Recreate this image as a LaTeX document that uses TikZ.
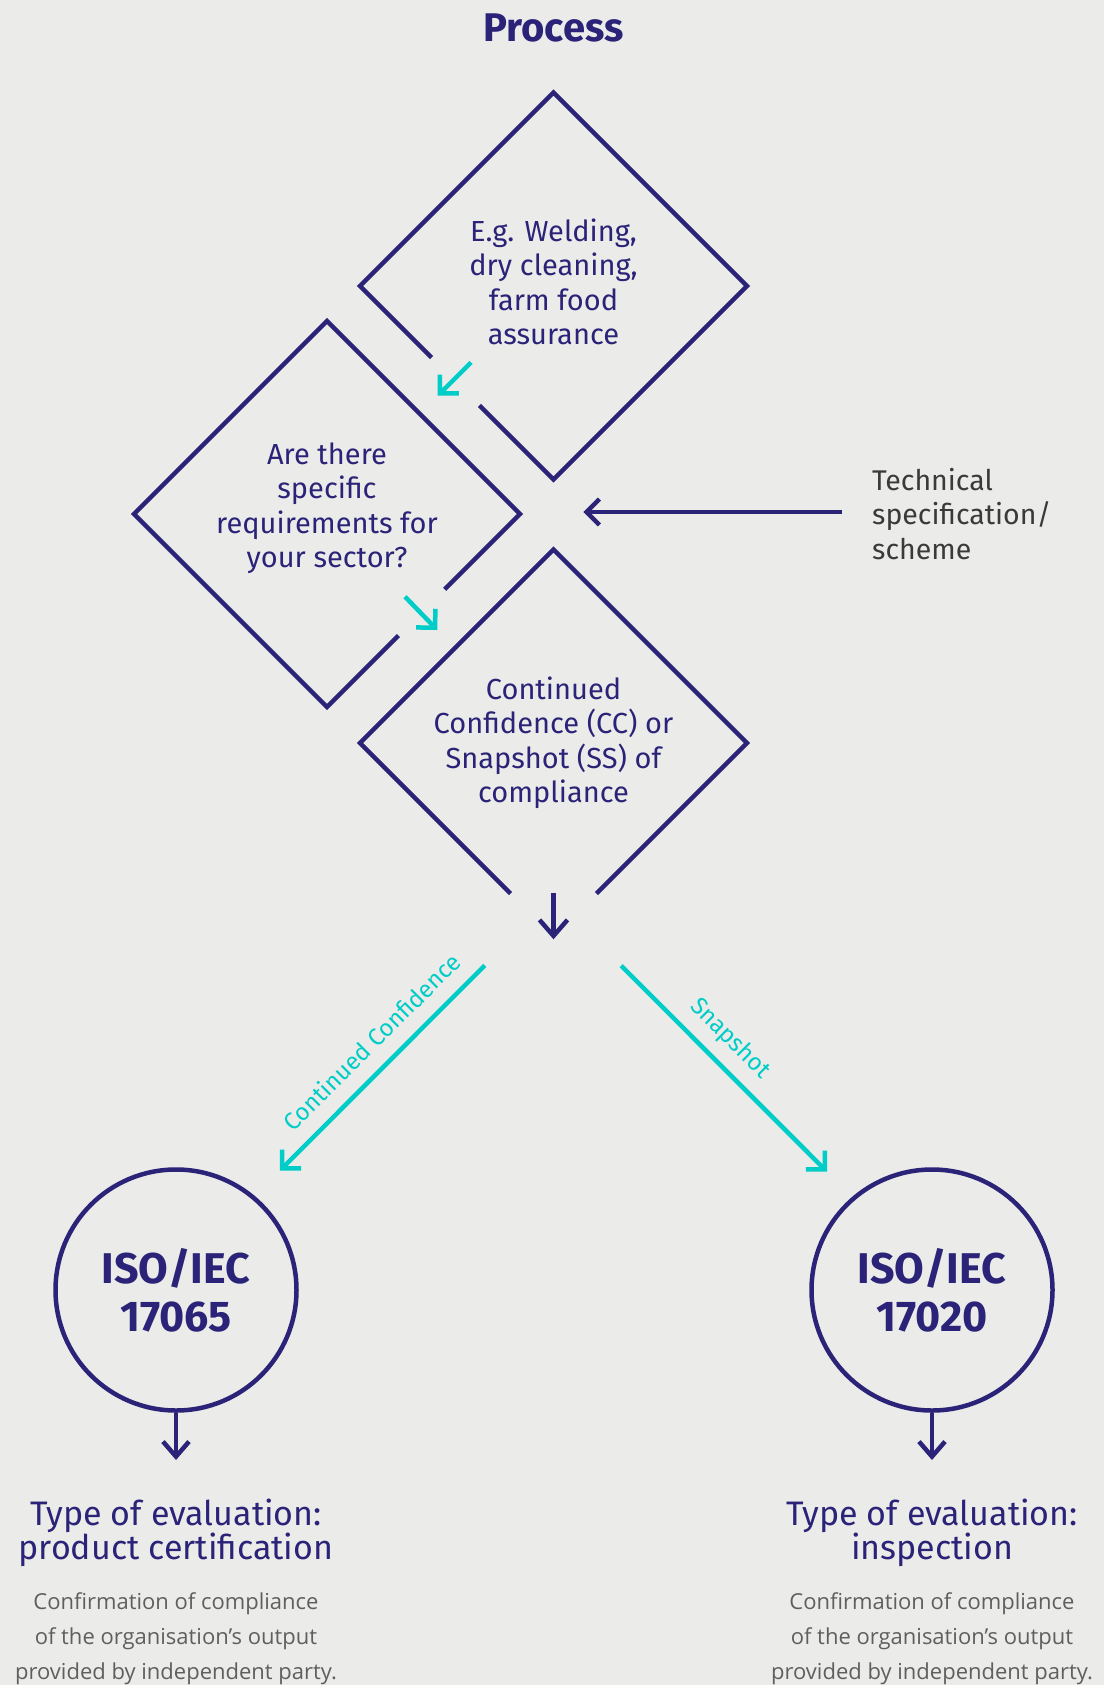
\documentclass[tikz,border=0pt]{standalone}
\usepackage{fontspec}
\setmainfont{Fira Sans}
\newfontfamily\bodyfont{Open Sans}
\usetikzlibrary{arrows.meta,calc}
\definecolor{navy}{RGB}{42,35,120}
\definecolor{teal}{RGB}{0,205,200}
\definecolor{bgc}{RGB}{235,235,233}
\definecolor{techgray}{RGB}{58,58,58}
\definecolor{bodygray}{RGB}{95,95,95}
\tikzset{
  navyline/.style={draw=navy, line width=4.5pt, line join=miter, line cap=butt},
  tealline/.style={draw=teal, line width=4.5pt, line join=miter, line cap=butt},
  navyarrow/.style={navyline, -{Straight Barb[length=14pt,width=28pt]}},
  tealarrow/.style={tealline, -{Straight Barb[length=13.4pt,width=26.8pt]}},
  dtext/.style={text=navy, align=center, inner sep=0pt, font=\fontsize{29}{34.5}\selectfont},
  isocircle/.style={circle, draw=navy, line width=4.5pt, minimum size=241pt, inner sep=0pt, align=center, text=navy, font=\bfseries\fontsize{43}{48}\selectfont},
  typetext/.style={text=navy, align=center, inner sep=0pt, font=\fontsize{34}{34}\selectfont},
  bodytext/.style={text=bodygray, align=center, inner sep=0pt, font=\bodyfont\fontsize{22}{35}\selectfont},
  labeltext/.style={text=teal, inner sep=0pt, font=\fontsize{24}{24}\selectfont}
}
\begin{document}
\begin{tikzpicture}[x=1pt,y=-1pt]
\fill[bgc] (0,0) rectangle (1104,1685);
\useasboundingbox (0,0) rectangle (1104,1685);

% title
\node[text=navy, inner sep=0pt, font=\bfseries\fontsize{40}{40}\selectfont] (title) at (553.5,28) {Process};

% diamond 1
\node[dtext] (d1) at (553.5,282) {E.g. Welding,\\dry cleaning,\\farm food\\assurance};
\coordinate (d1T) at (553.5,92.5);
\coordinate (d1B) at (553.5,479.5);
\coordinate (d1L) at (360,286);
\coordinate (d1R) at (747,286);
\draw[navyline] ($(d1L)!0.617!(d1B)$) -- (d1B) -- (d1R) -- (d1T) -- (d1L) -- ($(d1L)!0.37!(d1B)$);

% diamond 2
\node[dtext] (d2) at (327,508) {Are there\\specific\\requirements for\\your sector?};
\coordinate (d2T) at (327,321);
\coordinate (d2B) at (327,707);
\coordinate (d2L) at (134,514);
\coordinate (d2R) at (520,514);
\draw[navyline] ($(d2R)!0.63!(d2B)$) -- (d2B) -- (d2L) -- (d2T) -- (d2R) -- ($(d2R)!0.39!(d2B)$);

% diamond 3
\node[dtext] (d3) at (553.5,743) {Continued\\Confidence (CC) or\\Snapshot (SS) of\\compliance};
\coordinate (d3T) at (553.5,549.5);
\coordinate (d3B) at (553.5,936.5);
\coordinate (d3L) at (360,743);
\coordinate (d3R) at (747,743);
\draw[navyline] ($(d3B)!0.222!(d3L)$) -- (d3L) -- (d3T) -- (d3R) -- ($(d3B)!0.222!(d3R)$);

% small teal arrows
\coordinate (a1s) at (471,362.5);
\coordinate (a1e) at (437.7,395.7);
\draw[tealarrow] (a1s) -- (a1e);
\coordinate (a2s) at (405,596.7);
\coordinate (a2e) at (437.3,630);
\draw[tealarrow] (a2s) -- (a2e);

% technical spec
\node[anchor=west, text=techgray, align=left, inner sep=0pt, font=\fontsize{28.5}{34.5}\selectfont] (tech) at (872,514) {Technical\\specification/\\scheme};
\coordinate (techs) at (841.7,512);
\coordinate (teche) at (583.3,512);
\draw[navyarrow, -{Straight Barb[length=13pt,width=26pt]}] (techs) -- (teche);

% down arrow from diamond 3
\coordinate (ds) at (553.5,892.7);
\coordinate (de) at (553.5,939.3);
\draw[navyarrow, -{Straight Barb[length=16pt,width=28pt]}] (ds) -- (de);

% circles
\node[isocircle] (c1) at (176,1290) {ISO/IEC\\17065};
\node[isocircle] (c2) at (932,1290) {ISO/IEC\\17020};

% long teal arrows
\coordinate (l1s) at (484.8,965.4);
\draw[tealarrow] (l1s) -- (279.8,1170.7) coordinate (l1e);
\coordinate (l2s) at (621.2,965.7);
\draw[tealarrow] (l2s) -- (827,1171.7) coordinate (l2e);
\node[labeltext, rotate=45] (lab1) at (371.5,1041.7) {Continued Confidence};
\node[labeltext, rotate=-45] (lab2) at (730,1039) {Snapshot};

% arrows below circles
\coordinate (c1e) at (176,1460);
\coordinate (c2e) at (932,1460);
\draw[navyarrow, -{Straight Barb[length=15pt,width=26pt]}] (c1.south) -- (c1e);
\draw[navyarrow, -{Straight Barb[length=15pt,width=26pt]}] (c2.south) -- (c2e);

% type of evaluation
\node[typetext] (t1) at (176,1533) {Type of evaluation:\\product certification};
\node[typetext] (t2) at (932,1533) {Type of evaluation:\\inspection};

% body
\node[bodytext] (b1) at (176,1639) {Confirmation of compliance\\of the organisation’s output\\provided by independent party.};
\node[bodytext] (b2) at (932,1639) {Confirmation of compliance\\of the organisation’s output\\provided by independent party.};
\end{tikzpicture}
\end{document}
